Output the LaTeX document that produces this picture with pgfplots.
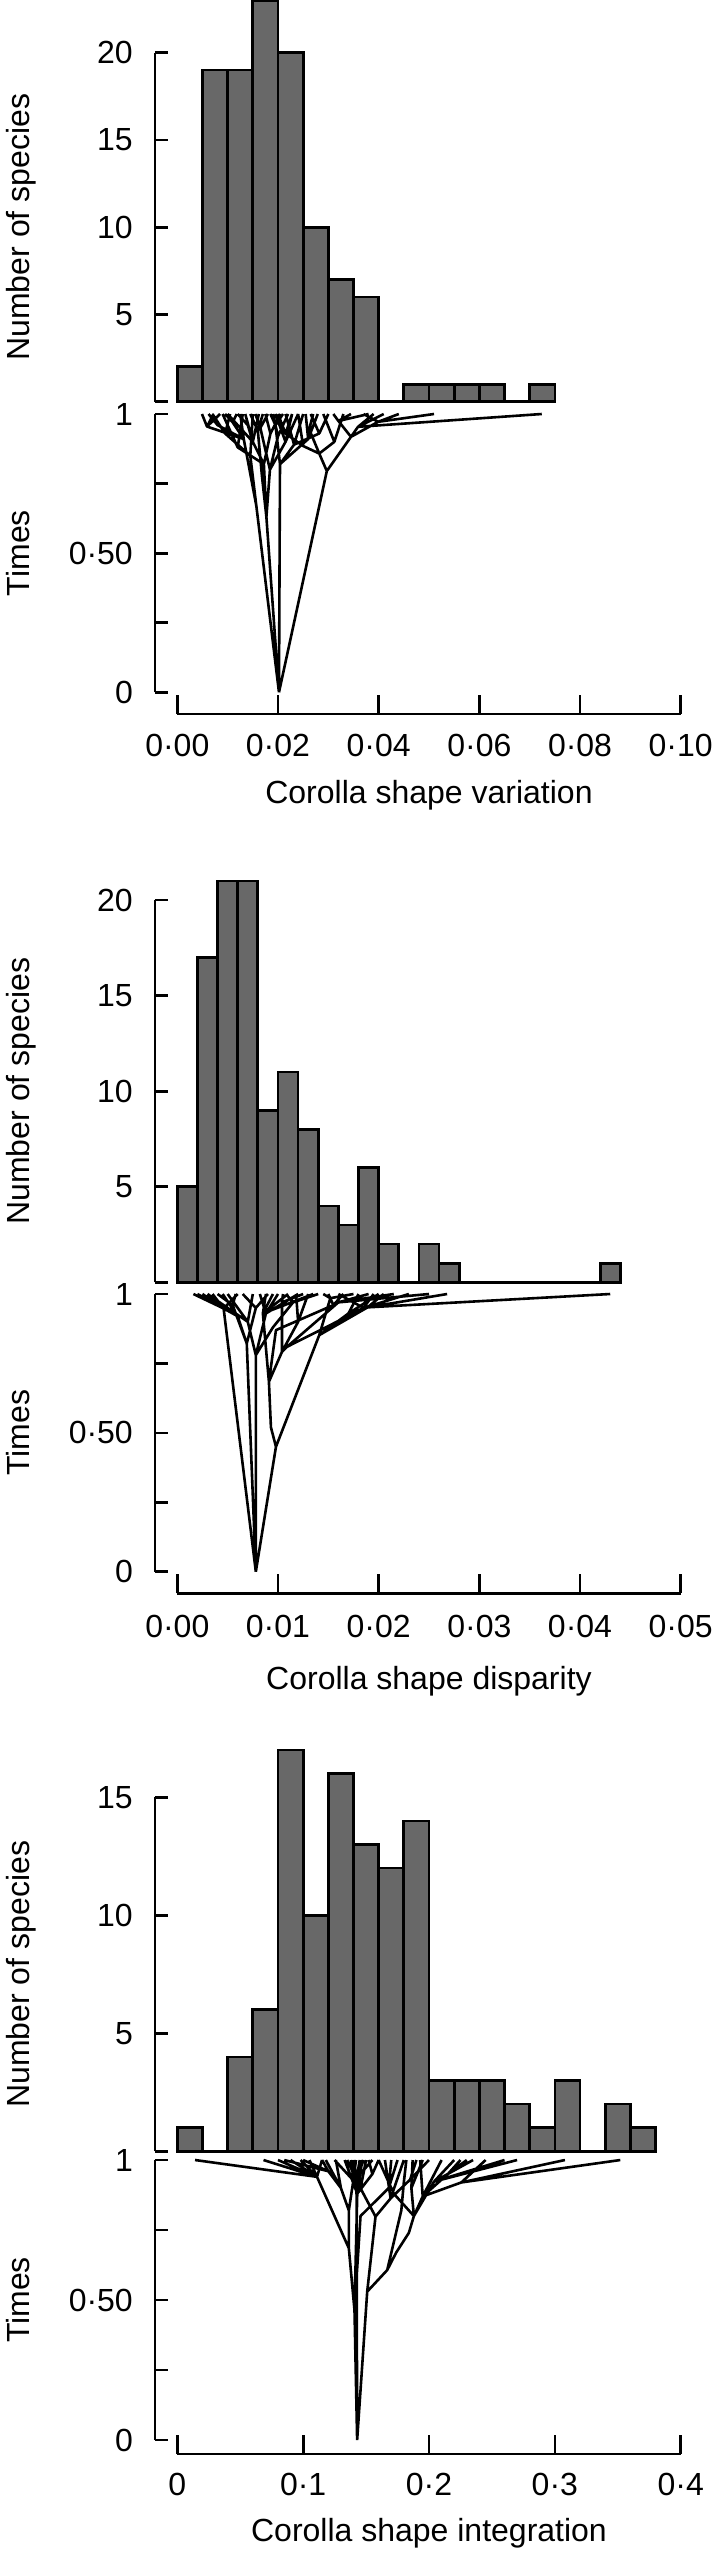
\documentclass[border=0pt]{standalone}
\usepackage{fontspec}
\setmainfont{Liberation Sans}
\usepackage{pgfplots}
\pgfplotsset{compat=1.18}
\definecolor{barfill}{RGB}{104,104,104}

% R-like detached axes, 1pt = 1px of the reference
\pgfplotsset{
  rax/.style={
    scale only axis, width=503.4pt, clip=false,
    scaled x ticks=false, scaled y ticks=false,
    axis line style={line width=2.7pt},
    tick style={black, line width=2.7pt},
    tick align=inside,
    major tick length=13.3pt,
    xtick style={/pgfplots/major tick length=19pt},
    yticklabel style={anchor=east, inner sep=0pt, xshift=-22pt},
    xticklabel style={anchor=base, inner sep=0pt},
    axis y line shift=22.3pt,
    every axis y label/.style={at={(rel axis cs:0,0.5)}, xshift=-147.3pt, rotate=90, anchor=base},
    every axis x label/.style={at={(rel axis cs:0.5,0)}, anchor=base},
  },
  hist/.style={rax, axis y line*=left, hide x axis, ymin=0, ylabel={Number of species}},
  times/.style={rax, axis lines*=left, ymin=0, ymax=1, unbounded coords=jump,
    ytick={0,0.25,0.5,0.75,1}, yticklabels={0,{},0·50,{},1}, ylabel={Times}},
  bars/.style={ybar interval, fill=barfill, draw=black, line width=2.7pt},
  tree/.style={black, line width=2.6pt, line join=round, mark=none},
}

\begin{document}
\fontsize{32pt}{38pt}\selectfont
\begin{tikzpicture}
\useasboundingbox (0,0) rectangle (721pt,-2550pt);

% ---------------- panel 1: variation ----------------
\begin{axis}[hist, at={(177.3pt,-401.7pt)}, anchor=south west, height=349pt,
  xmin=0, xmax=0.1, ymax=20, ytick={0,5,10,15,20}, yticklabels={{},5,10,15,20}]
\addplot[bars] coordinates {(0,2) (0.005,19) (0.01,19) (0.015,23) (0.02,20) (0.025,10)
  (0.03,7) (0.035,6) (0.04,0) (0.045,1) (0.05,1) (0.055,1) (0.06,1) (0.065,0) (0.07,1) (0.075,0)};
\end{axis}

\begin{axis}[times, at={(177.3pt,-692.3pt)}, anchor=south west, height=278.3pt,
  xmin=0, xmax=0.1, axis x line shift=21.7pt,
  xtick={0,0.02,0.04,0.06,0.08,0.1}, xticklabels={0·00,0·02,0·04,0·06,0·08,0·10},
  xticklabel style={yshift=-42pt},
  xlabel={Corolla shape variation}, xlabel style={yshift=-111pt}]
\addplot[tree] coordinates {
 (0.0202,0) (0.0177,0.63) (0.0172,0.82) (0.0150,0.90) (0.0100,1) (nan,nan)
 (0.0150,0.90) (0.0135,1) (nan,nan) (0.0150,0.90) (0.0162,1) (nan,nan)
 (0.0150,0.90) (0.0140,0.96) (0.0120,1) (nan,nan)
 (0.0172,0.82) (0.0185,0.93) (0.0175,1) (nan,nan) (0.0185,0.93) (0.0205,1) (nan,nan)
 (0.0172,0.82) (0.0120,0.88) (0.0090,1) (nan,nan) (0.0120,0.88) (0.0130,1) (nan,nan)
 (0.0177,0.63) (0.0184,0.80) (0.0215,0.90) (0.0195,1) (nan,nan)
 (0.0215,0.90) (0.0240,1) (nan,nan) (0.0215,0.90) (0.0228,1) (nan,nan)
 (0.0184,0.80) (0.0165,0.95) (0.0155,1) (nan,nan) (0.0165,0.95) (0.0180,1) (nan,nan)
 (0.0184,0.80) (0.0200,0.92) (0.0220,1) (nan,nan) (0.0200,0.92) (0.0190,1) (nan,nan)
 (0.0177,0.63) (0.0168,0.78) (0.0160,0.94) (0.0145,1) (nan,nan) (0.0160,0.94) (0.0170,1) (nan,nan)
 (0.0202,0) (0.0157,0.67) (0.0132,0.91) (0.0059,0.955) (0.0049,1) (nan,nan)
 (0.0059,0.955) (0.0072,1) (nan,nan) (0.0059,0.955) (0.0085,1) (nan,nan)
 (0.0132,0.91) (0.0125,1) (nan,nan) (0.0132,0.91) (0.0110,0.97) (0.0095,1) (nan,nan)
 (0.0110,0.97) (0.0118,1) (nan,nan) (0.0132,0.91) (0.0080,0.96) (0.0062,1) (nan,nan)
 (0.0157,0.67) (0.0145,0.85) (0.0095,0.93) (0.0070,1) (nan,nan)
 (0.0095,0.93) (0.0105,1) (nan,nan) (0.0145,0.85) (0.0150,1) (nan,nan)
 (0.0202,0) (0.0204,0.82) (0.0232,0.89) (0.0282,0.93) (0.0265,1) (nan,nan)
 (0.0282,0.93) (0.0300,1) (nan,nan) (0.0232,0.89) (0.0250,1) (nan,nan)
 (0.0232,0.89) (0.0215,1) (nan,nan) (0.0204,0.82) (0.0195,0.96) (0.0185,1) (nan,nan)
 (0.0195,0.96) (0.0210,1) (nan,nan)
 (0.0204,0.82) (0.0260,0.91) (0.0279,1) (nan,nan) (0.0260,0.91) (0.0255,1) (nan,nan)
 (0.0202,0) (0.0297,0.795) (0.0282,0.858) (0.0250,0.885) (0.0215,0.93) (0.0200,1) (nan,nan)
 (0.0215,0.93) (0.0228,1) (nan,nan) (0.0250,0.885) (0.0240,1) (nan,nan)
 (0.0282,0.858) (0.0312,0.90) (0.0290,1) (nan,nan) (0.0312,0.90) (0.0330,1) (nan,nan)
 (0.0282,0.858) (0.0262,0.945) (0.0270,1) (nan,nan)
 (0.0297,0.795) (0.0345,0.918) (0.0359,0.954) (0.0724,1) (nan,nan)
 (0.0359,0.954) (0.0410,1) (nan,nan) (0.0359,0.954) (0.0390,1) (nan,nan)
 (0.0345,0.918) (0.0399,0.972) (0.0510,1) (nan,nan) (0.0399,0.972) (0.0440,1) (nan,nan)
 (0.0399,0.972) (0.0370,1) (nan,nan)
 (0.0345,0.918) (0.0320,0.975) (0.0310,1) (nan,nan) (0.0320,0.975) (0.0345,1) (nan,nan)
 (0.0320,0.975) (0.0380,1)
};
\end{axis}

% ---------------- panel 2: disparity ----------------
\begin{axis}[hist, at={(177.3pt,-1282.3pt)}, anchor=south west, height=382.3pt,
  xmin=0, xmax=0.05, ymax=20, ytick={0,5,10,15,20}, yticklabels={{},5,10,15,20}]
\addplot[bars] coordinates {(0,5) (0.002,17) (0.004,21) (0.006,21) (0.008,9) (0.01,11)
  (0.012,8) (0.014,4) (0.016,3) (0.018,6) (0.02,2) (0.022,0) (0.024,2) (0.026,1) (0.028,0)
  (0.03,0) (0.032,0) (0.034,0) (0.036,0) (0.038,0) (0.04,0) (0.042,1) (0.044,0)};
\end{axis}

\begin{axis}[times, at={(177.3pt,-1571.7pt)}, anchor=south west, height=277.7pt,
  xmin=0, xmax=0.05, axis x line shift=21.6pt,
  xtick={0,0.01,0.02,0.03,0.04,0.05}, xticklabels={0·00,0·01,0·02,0·03,0·04,0·05},
  xticklabel style={yshift=-44pt},
  xlabel={Corolla shape disparity}, xlabel style={yshift=-118pt}]
\addplot[tree] coordinates {
 (0.0078,0) (0.0046,0.948) (0.0016,1) (nan,nan)
 (0.0046,0.948) (0.0035,1) (nan,nan) (0.0046,0.948) (0.0060,1) (nan,nan)
 (0.0046,0.948) (0.0025,1) (nan,nan)
 (0.0078,0) (0.0078,0.78) (0.0070,0.90) (0.0050,1) (nan,nan)
 (0.0070,0.90) (0.0030,1) (nan,nan) (0.0070,0.90) (0.0075,1) (nan,nan)
 (0.0078,0.78) (0.0088,0.93) (0.0082,1) (nan,nan)
 (0.0088,0.93) (0.0100,1) (nan,nan) (0.0088,0.93) (0.0120,1) (nan,nan)
 (0.0078,0.78) (0.0095,0.88) (0.0115,0.97) (0.0140,1) (nan,nan) (0.0115,0.97) (0.0108,1) (nan,nan)
 (0.0078,0) (0.0069,0.822) (0.0060,0.92) (0.0020,1) (nan,nan)
 (0.0060,0.92) (0.0045,1) (nan,nan)
 (0.0069,0.822) (0.0078,0.95) (0.0065,1) (nan,nan) (0.0078,0.95) (0.0090,1) (nan,nan)
 (0.0069,0.822) (0.0055,0.96) (0.0040,1) (nan,nan) (0.0055,0.96) (0.0058,1) (nan,nan)
 (0.0078,0) (0.0098,0.45) (0.0093,0.52) (0.0091,0.684) (0.0104,0.792) (0.0104,0.97) (0.0105,1) (nan,nan)
 (0.0104,0.97) (0.0125,1) (nan,nan)
 (0.0104,0.792) (0.0109,0.81) (0.0153,0.89) (0.0185,0.95) (0.0230,1) (nan,nan)
 (0.0185,0.95) (0.0195,1) (nan,nan) (0.0185,0.95) (0.0160,1) (nan,nan)
 (0.0104,0.792) (0.0120,0.90) (0.0130,1) (nan,nan) (0.0120,0.90) (0.0118,1) (nan,nan)
 (0.0091,0.684) (0.0085,0.93) (0.0110,1) (nan,nan)
 (0.0085,0.93) (0.0135,1) (nan,nan) (0.0085,0.93) (0.0095,1) (nan,nan)
 (0.0085,0.93) (0.0088,1) (nan,nan)
 (0.0091,0.684) (0.0098,0.87) (0.0155,0.96) (0.0165,1) (nan,nan) (0.0155,0.96) (0.0150,1) (nan,nan)
 (0.0098,0.45) (0.0141,0.852) (0.0189,0.952) (0.0430,1) (nan,nan)
 (0.0189,0.952) (0.0268,1) (nan,nan) (0.0189,0.952) (0.0205,1) (nan,nan)
 (0.0141,0.852) (0.0152,0.985) (0.0145,1) (nan,nan) (0.0152,0.985) (0.0175,1) (nan,nan)
 (0.0141,0.852) (0.0170,0.93) (0.0200,1) (nan,nan) (0.0170,0.93) (0.0180,1) (nan,nan)
 (0.0109,0.81) (0.0160,0.97) (0.0190,1) (nan,nan)
 (0.0160,0.97) (0.0215,1) (nan,nan) (0.0160,0.97) (0.0250,1)
};
\end{axis}

% ---------------- panel 3: integration ----------------
\begin{axis}[hist, at={(177.3pt,-2151.3pt)}, anchor=south west, height=354pt,
  xmin=0, xmax=0.4, ymax=15, ytick={0,5,10,15}, yticklabels={{},5,10,15}]
\addplot[bars] coordinates {(0,1) (0.02,0) (0.04,4) (0.06,6) (0.08,17) (0.1,10) (0.12,16)
  (0.14,13) (0.16,12) (0.18,14) (0.2,3) (0.22,3) (0.24,3) (0.26,2) (0.28,1) (0.3,3)
  (0.32,0) (0.34,2) (0.36,1) (0.38,0)};
\end{axis}

\begin{axis}[times, at={(177.3pt,-2440pt)}, anchor=south west, height=280pt,
  xmin=0, xmax=0.4, axis x line shift=14pt,
  xtick={0,0.1,0.2,0.3,0.4}, xticklabels={0,0·1,0·2,0·3,0·4},
  xticklabel style={yshift=-41pt},
  xlabel={Corolla shape integration}, xlabel style={yshift=-101.7pt}]
\addplot[tree] coordinates {
 (0.1429,0) (0.1408,0.464) (0.1363,0.685) (0.1110,0.94) (0.0141,1) (nan,nan)
 (0.1110,0.94) (0.0685,1) (nan,nan) (0.1110,0.94) (0.0800,1) (nan,nan)
 (0.1110,0.94) (0.0900,1) (nan,nan) (0.1110,0.94) (0.0980,1) (nan,nan)
 (0.1110,0.94) (0.1050,1) (nan,nan) (0.1110,0.94) (0.1150,1) (nan,nan)
 (0.1363,0.685) (0.1363,0.82) (0.1300,0.90) (0.1200,0.96) (0.0850,1) (nan,nan)
 (0.1200,0.96) (0.1150,1) (nan,nan) (0.1200,0.96) (0.1000,1) (nan,nan)
 (0.1300,0.90) (0.1260,1) (nan,nan) (0.1300,0.90) (0.1180,1) (nan,nan)
 (0.1363,0.82) (0.1400,0.93) (0.1380,1) (nan,nan) (0.1400,0.93) (0.1420,1) (nan,nan)
 (0.1408,0.464) (0.1430,0.88) (0.1470,1) (nan,nan) (0.1430,0.88) (0.1330,1) (nan,nan)
 (0.1430,0.88) (0.1550,0.95) (0.1600,1) (nan,nan) (0.1550,0.95) (0.1520,1) (nan,nan)
 (0.1408,0.464) (0.1456,0.80) (0.1680,0.90) (0.1700,1) (nan,nan) (0.1680,0.90) (0.1750,1) (nan,nan)
 (0.1429,0) (0.1424,0.934) (0.1400,1) (nan,nan)
 (0.1424,0.934) (0.1450,1) (nan,nan) (0.1424,0.934) (0.1550,1) (nan,nan)
 (0.1424,0.934) (0.1480,1) (nan,nan)
 (0.1429,0) (0.1509,0.530) (0.1575,0.798) (0.1456,0.899) (0.1250,1) (nan,nan)
 (0.1456,0.899) (0.1500,1) (nan,nan) (0.1456,0.899) (0.1350,1) (nan,nan)
 (0.1575,0.798) (0.1695,0.863) (0.1650,1) (nan,nan)
 (0.1695,0.863) (0.1800,1) (nan,nan)
 (0.1695,0.863) (0.1850,0.93) (0.1900,1) (nan,nan) (0.1850,0.93) (0.2000,1) (nan,nan)
 (0.1509,0.530) (0.1668,0.607) (0.1740,0.67) (0.1840,0.74) (0.1880,0.80) (0.2040,0.923) (0.2350,1) (nan,nan)
 (0.2040,0.923) (0.2600,1) (nan,nan) (0.2040,0.923) (0.2200,1) (nan,nan)
 (0.2040,0.923) (0.2700,1) (nan,nan)
 (0.1880,0.80) (0.1950,0.87) (0.2100,1) (nan,nan)
 (0.1950,0.87) (0.2257,0.92) (0.3520,1) (nan,nan)
 (0.2257,0.92) (0.3080,1) (nan,nan) (0.2257,0.92) (0.2450,1) (nan,nan)
 (0.1950,0.87) (0.1930,1) (nan,nan)
 (0.1950,0.87) (0.2150,0.95) (0.2300,1) (nan,nan) (0.2150,0.95) (0.2250,1) (nan,nan)
 (0.1880,0.80) (0.1860,0.90) (0.1870,1) (nan,nan) (0.1860,0.90) (0.1950,1) (nan,nan)
 (0.1880,0.80) (0.1720,0.88) (0.1600,1) (nan,nan)
 (0.1668,0.607) (0.1780,0.82) (0.1800,0.92) (0.1820,1)
};
\end{axis}
\end{tikzpicture}
\end{document}
